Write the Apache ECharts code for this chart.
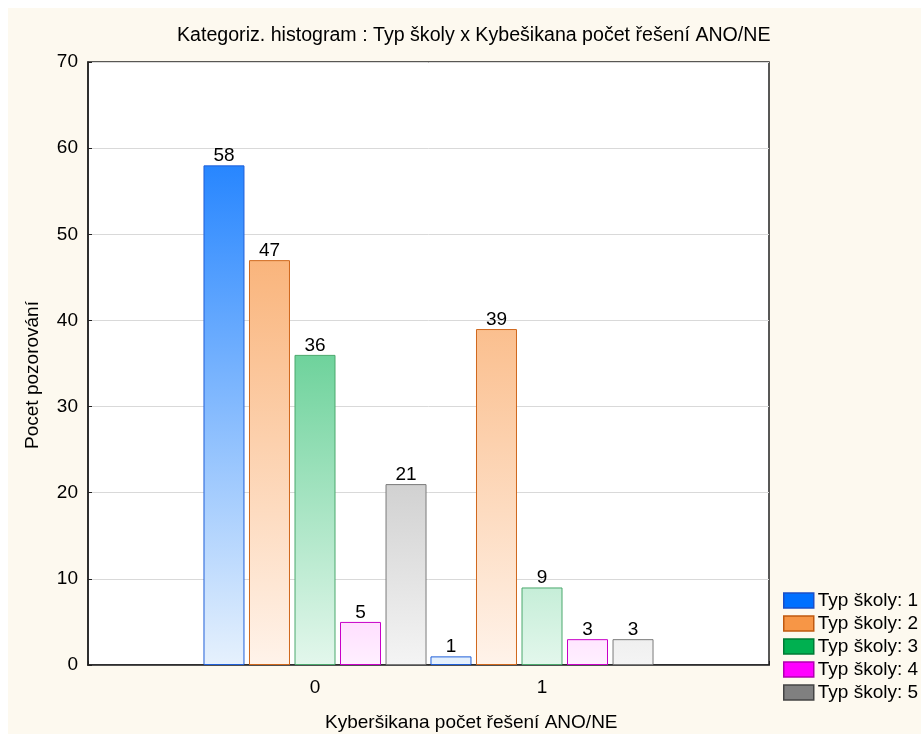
<!DOCTYPE html>
<html>
<head>
<meta charset="utf-8">
<script src="https://cdn.jsdelivr.net/npm/echarts@6/dist/echarts.min.js"></script>
<style>
  html, body { margin: 0; padding: 0; background: #fff; }
  #chart { width: 921px; height: 734px; }
</style>
</head>
<body>
<div id="chart"></div>
<script>
// x positions of the two groups (Kyberšikana 0 / 1)
const groups = [0, 1];
const seriesNames = ['Typ školy: 1', 'Typ školy: 2', 'Typ školy: 3', 'Typ školy: 4', 'Typ školy: 5'];
const typ1 = [58, 1];
const typ2 = [47, 39];
const typ3 = [36, 9];
const typ4 = [5, 3];
const typ5 = [21, 3];
const yTicks = [0, 10, 20, 30, 40, 50, 60, 70];

const values = [typ1, typ2, typ3, typ4, typ5];
const fillColors = ['#0070ff', '#f79646', '#00b050', '#ff00ff', '#808080'];
const lightColors = ['#e6f1fd', '#fff3ea', '#e3f7ec', '#fff0ff', '#f4f4f4'];
const edgeColors = ['#1f5fd8', '#d0681c', '#4aa86c', '#c800c8', '#7a7a7a'];
const legendEdges = ['#1a4fc8', '#c05a10', '#007a35', '#b000b0', '#444444'];

const font = 'Arial, "Liberation Sans", sans-serif';
const fs = 19;
const plotTop = 62, plotBottom = 665;

let myChart = echarts.init(document.getElementById('chart'));

let series = seriesNames.map((name, i) => ({
  name: name,
  type: 'bar',
  barWidth: 41,
  barGap: '11%',
  data: groups.map((g, j) => [g, values[i][j]]),
  itemStyle: {
    color: {
      type: 'linear', x: 0, y: plotTop, x2: 0, y2: plotBottom, global: true,
      colorStops: [{offset: 0, color: fillColors[i]}, {offset: 1, color: lightColors[i]}]
    },
    borderColor: edgeColors[i],
    borderWidth: 1
  },
  label: {
    show: true,
    position: 'top',
    distance: 0,
    color: '#000',
    fontFamily: font,
    fontSize: fs,
    formatter: p => p.value[1]
  }
}));

let option = {
  animation: false,
  backgroundColor: '#fff',
  graphic: [
    {type: 'rect', left: 8, top: 8, z: -10, shape: {width: 913, height: 726}, style: {fill: '#fdf9ef'}},
    {type: 'text', x: 33, y: 375, rotation: Math.PI / 2,
      style: {text: 'Pocet pozorování', fill: '#000', font: fs + 'px ' + font, textAlign: 'center', textVerticalAlign: 'middle'}}
  ],
  title: [
    {text: 'Kategoriz. histogram : Typ školy x Kybešikana počet řešení ANO/NE', left: 172, top: 21,
      textStyle: {fontFamily: font, fontSize: 19.6, fontWeight: 'normal', color: '#000'}},
    {text: 'Kyberšikana počet řešení ANO/NE', left: 320, top: 708,
      textStyle: {fontFamily: font, fontSize: fs, fontWeight: 'normal', color: '#000'}}
  ],
  legend: {
    orient: 'vertical',
    left: 783,
    top: 591,
    padding: 0,
    itemWidth: 30,
    itemHeight: 15,
    itemGap: 4,
    icon: 'rect',
    textStyle: {fontFamily: font, fontSize: fs, color: '#000', padding: [0, 0, 0, -1]},
    data: seriesNames.map((n, i) => ({
      name: n,
      itemStyle: {color: fillColors[i], borderColor: legendEdges[i], borderWidth: 1.5}
    }))
  },
  grid: {
    left: 88, top: plotTop, right: 152, bottom: 734 - plotBottom,
    show: true, backgroundColor: '#fff', borderColor: '#222', borderWidth: 1.5
  },
  xAxis: {
    type: 'value',
    min: -1,
    max: 2,
    interval: 1,
    axisLine: {show: true, onZero: false, lineStyle: {color: '#222', width: 1.5}},
    axisTick: {show: true, inside: true, length: 4, lineStyle: {color: '#222'}},
    splitLine: {show: false},
    axisLabel: {
      margin: 13,
      color: '#000', fontFamily: font, fontSize: fs,
      formatter: v => groups.includes(v) ? String(v) : ''
    }
  },
  yAxis: {
    type: 'value',
    min: yTicks[0],
    max: yTicks[yTicks.length - 1],
    interval: 10,
    axisLine: {show: true, onZero: false, lineStyle: {color: '#222', width: 1.5}},
    axisTick: {show: true, inside: true, length: 4, lineStyle: {color: '#222'}},
    splitLine: {show: true, lineStyle: {color: '#d9d9d9'}},
    axisLabel: {margin: 10, color: '#000', fontFamily: font, fontSize: fs}
  },
  series: series
};

myChart.setOption(option);
</script>
</body>
</html>
